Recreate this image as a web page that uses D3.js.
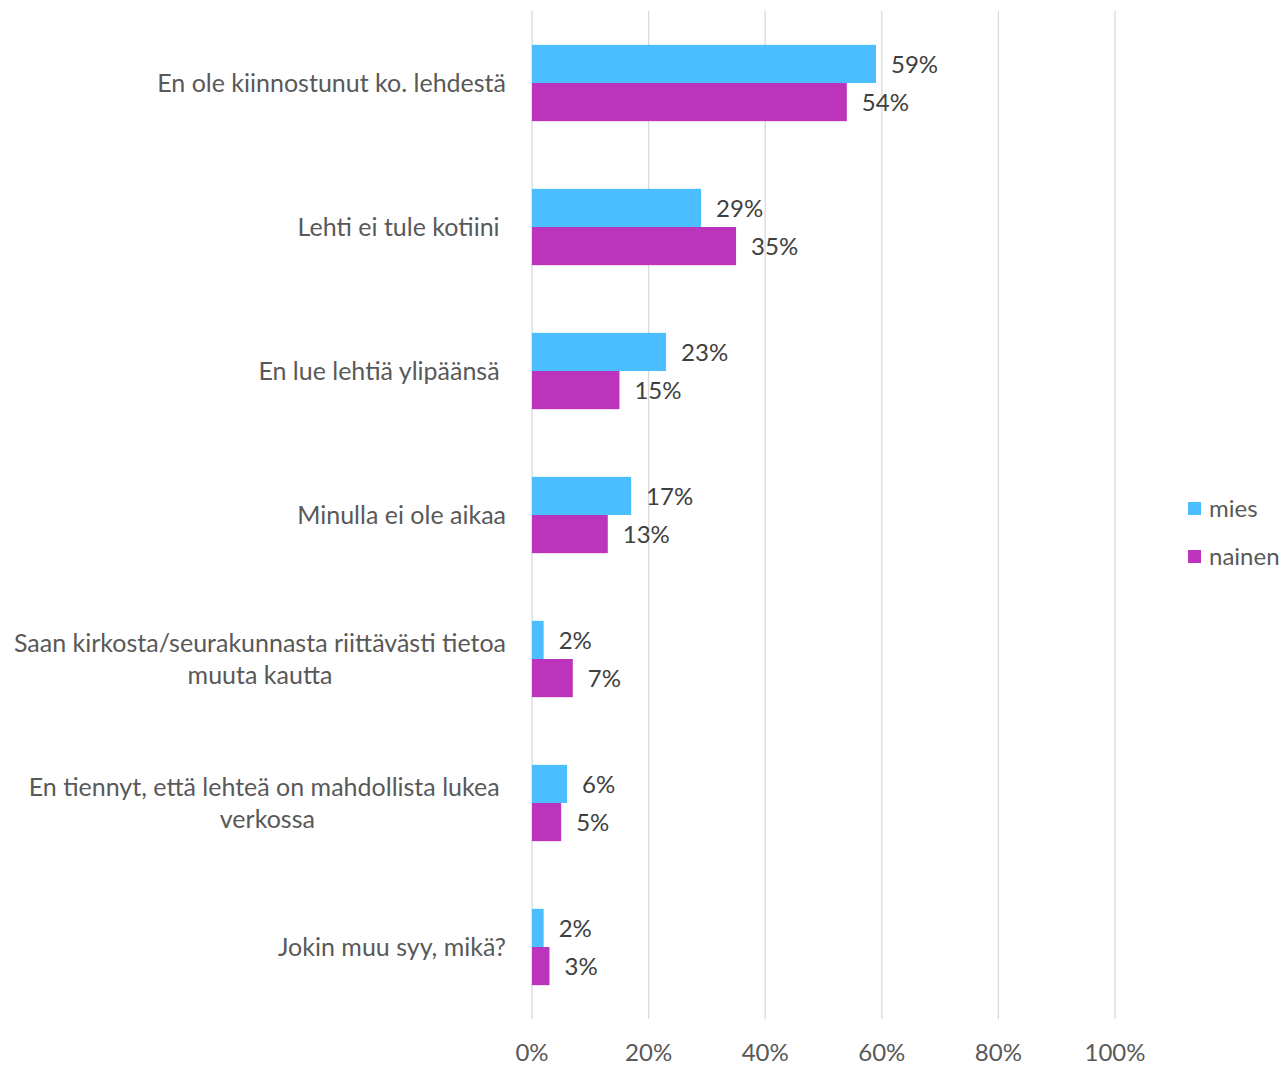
<!DOCTYPE html>
<html><head><meta charset="utf-8">
<script src="https://cdn.jsdelivr.net/npm/d3@7"></script>
<style>body{margin:0;background:#fff;} text{font-family:Lato,"Open Sans",sans-serif;}</style>
</head><body><svg id="c" width="1287" height="1065"></svg>
<script>
const categories = [
  ["En ole kiinnostunut ko. lehdestä"],
  ["Lehti ei tule kotiini "],
  ["En lue lehtiä ylipäänsä "],
  ["Minulla ei ole aikaa"],
  ["Saan kirkosta/seurakunnasta riittävästi tietoa", "muuta kautta"],
  ["En tiennyt, että lehteä on mahdollista lukea ", "verkossa"],
  ["Jokin muu syy, mikä?"]
];
const seriesNames = ["mies", "nainen"];
const mies = [59, 29, 23, 17, 2, 6, 2];
const nainen = [54, 35, 15, 13, 7, 5, 3];
const tickValues = [0, 20, 40, 60, 80, 100];
const colors = ["#4BBEFF", "#BC34BC"];

const svg = d3.select("#c");
const x = d3.scaleLinear().domain([0, 100]).range([532, 1115]);
const y = d3.scaleBand().domain(d3.range(categories.length)).range([11, 1019]).paddingInner(0.47).paddingOuter(0.235);
const sub = d3.scaleBand().domain(seriesNames).range([0, y.bandwidth()]);

svg.append("g").selectAll("line").data(tickValues).join("line")
  .attr("x1", d => x(d)).attr("x2", d => x(d)).attr("y1", 11).attr("y2", 1019)
  .attr("stroke", "#d9d9d9").attr("stroke-width", 1.3);

svg.append("g").selectAll("text").data(tickValues).join("text")
  .attr("x", d => x(d)).attr("y", 1061).attr("text-anchor", "middle")
  .attr("fill", "#595959").attr("font-size", 24).text(d => d + "%");

const data = [mies, nainen];
data.forEach((vals, si) => {
  const g = svg.append("g");
  g.selectAll("rect").data(vals).join("rect")
    .attr("x", x(0)).attr("y", (d, i) => y(i) + sub(seriesNames[si]))
    .attr("width", d => x(d) - x(0)).attr("height", sub.bandwidth())
    .attr("fill", colors[si]);
  g.selectAll("text").data(vals).join("text")
    .attr("x", d => x(d) + 15).attr("y", (d, i) => y(i) + sub(seriesNames[si]) + sub.bandwidth() / 2 + 1)
    .attr("dy", "0.35em").attr("fill", "#404040").attr("font-size", 24)
    .text(d => d + "%");
});

const labelRight = 506;
const lineH = 32;
const labelSize = 25;
categories.forEach((lines, i) => {
  const cy = y(i) + y.bandwidth() / 2;
  const t = svg.append("text").attr("fill", "#595959").attr("font-size", labelSize)
    .style("white-space", "pre");
  if (lines.length === 1) {
    t.attr("x", labelRight).attr("y", cy).attr("dy", "0.35em").attr("text-anchor", "end").text(lines[0]);
  } else {
    const tmp = svg.append("text").attr("font-size", labelSize).style("white-space", "pre").text(lines[0]);
    const w = tmp.node().getComputedTextLength();
    tmp.remove();
    const cx = labelRight - w / 2;
    lines.forEach((ln, k) => {
      t.append("tspan").attr("x", k === 0 ? labelRight - w : cx).attr("text-anchor", k === 0 ? "start" : "middle")
        .attr("y", cy + (k - (lines.length - 1) / 2) * lineH).attr("dy", "0.35em").text(ln);
    });
  }
});

const leg = svg.append("g");
seriesNames.forEach((n, i) => {
  const ly = 509 + i * 48;
  leg.append("rect").attr("x", 1188).attr("y", ly - 7).attr("width", 13).attr("height", 13).attr("fill", colors[i]);
  leg.append("text").attr("x", 1209).attr("y", ly).attr("dy", "0.35em").attr("fill", "#595959").attr("font-size", 24).text(n);
});
</script></body></html>
